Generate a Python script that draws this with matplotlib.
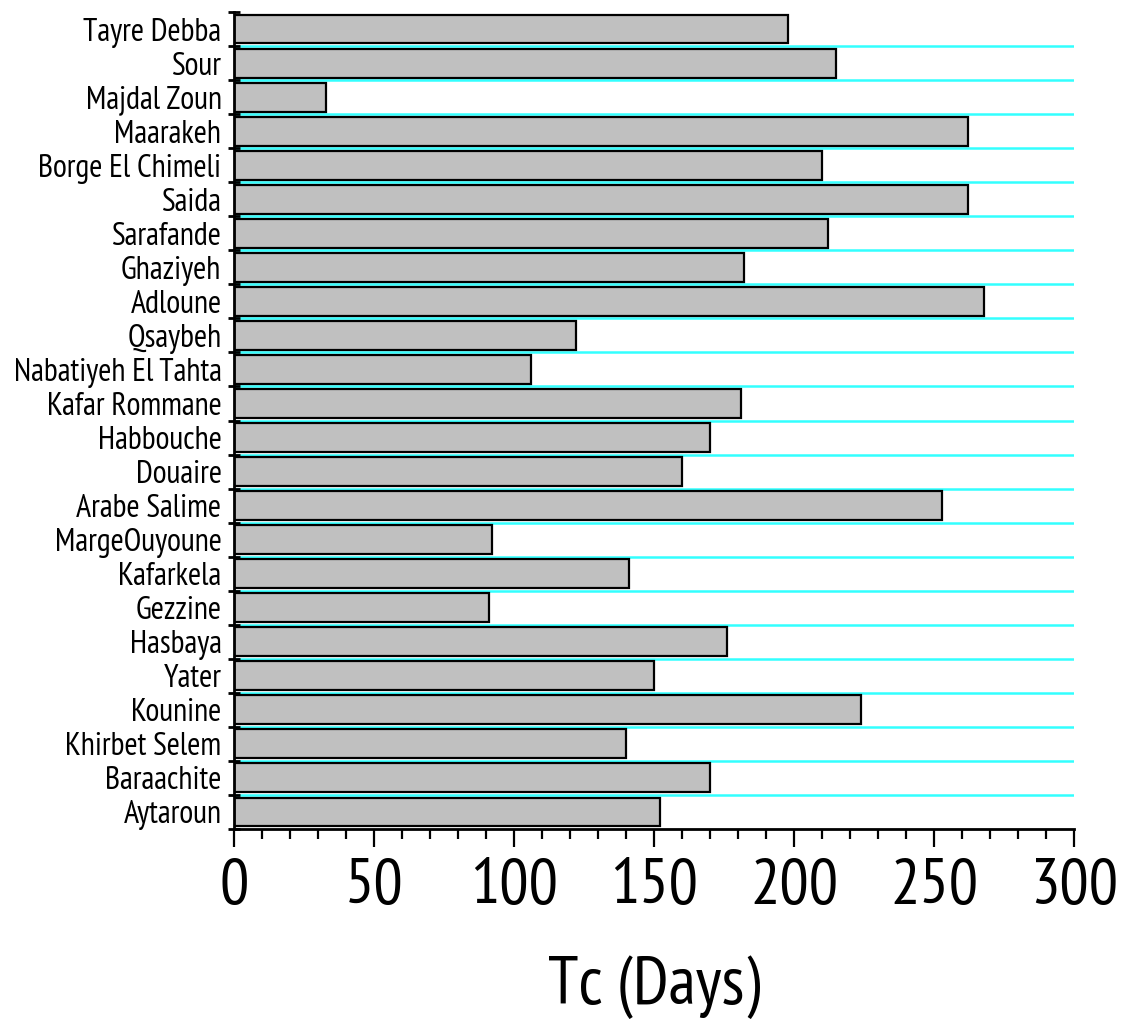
import matplotlib
matplotlib.use("Agg")
import matplotlib.pyplot as plt
from matplotlib.ticker import MultipleLocator, FixedLocator, NullFormatter

plt.rcParams['font.family'] = ['PT Sans Narrow', 'Liberation Sans', 'DejaVu Sans']

# top to bottom as drawn
sites = ["Tayre Debba", "Sour", "Majdal Zoun", "Maarakeh", "Borge El Chimeli",
         "Saida", "Sarafande", "Ghaziyeh", "Adloune", "Qsaybeh",
         "Nabatiyeh El Tahta", "Kafar Rommane", "Habbouche", "Douaire",
         "Arabe Salime", "MargeOuyoune", "Kafarkela", "Gezzine", "Hasbaya",
         "Yater", "Kounine", "Khirbet Selem", "Baraachite", "Aytaroun"]
tc_days = [198, 215, 33, 262, 210, 262, 212, 182, 268, 122, 106, 181, 170,
           160, 253, 92, 141, 91, 176, 150, 224, 140, 170, 152]

n = len(sites)
ypos = [n - 1 - i for i in range(n)]

fig = plt.figure(figsize=(11.24, 10.32), dpi=100)
ax = fig.add_axes([234/1124, 1 - 829/1032, (1074-234)/1124, (829-12)/1032])

# cyan lines between categories
for k in range(n - 1):
    ax.axhline(k + 0.5, color='#33ffff', lw=1.8, zorder=1)

ax.barh(ypos, tc_days, height=0.85, color='#c0c0c0', edgecolor='black',
        linewidth=1.6, zorder=2)

ax.set_xlim(0, 300)
ax.set_ylim(-0.5, n - 0.5)

ax.spines['top'].set_visible(False)
ax.spines['right'].set_visible(False)
ax.spines['left'].set_linewidth(2)
ax.spines['bottom'].set_linewidth(2)

ax.xaxis.set_major_locator(MultipleLocator(50))
ax.xaxis.set_minor_locator(MultipleLocator(10))
ax.tick_params(axis='x', which='major', direction='out', length=13, width=1.6,
               labelsize=47, pad=8)
ax.tick_params(axis='x', which='minor', direction='out', length=7, width=1.6)

ax.yaxis.set_major_locator(FixedLocator([k - 0.5 for k in range(n + 1)]))
ax.yaxis.set_major_formatter(NullFormatter())
ax.yaxis.set_minor_locator(FixedLocator(ypos))
ax.set_yticks(ypos, sites, minor=True)
ax.tick_params(axis='y', which='major', direction='inout', length=9, width=2)
ax.tick_params(axis='y', which='minor', direction='in', length=2, width=2,
               labelsize=23, pad=9)

ax.set_xlabel("Tc (Days)", fontsize=49, labelpad=28)

fig.savefig("out.png", dpi=100)
